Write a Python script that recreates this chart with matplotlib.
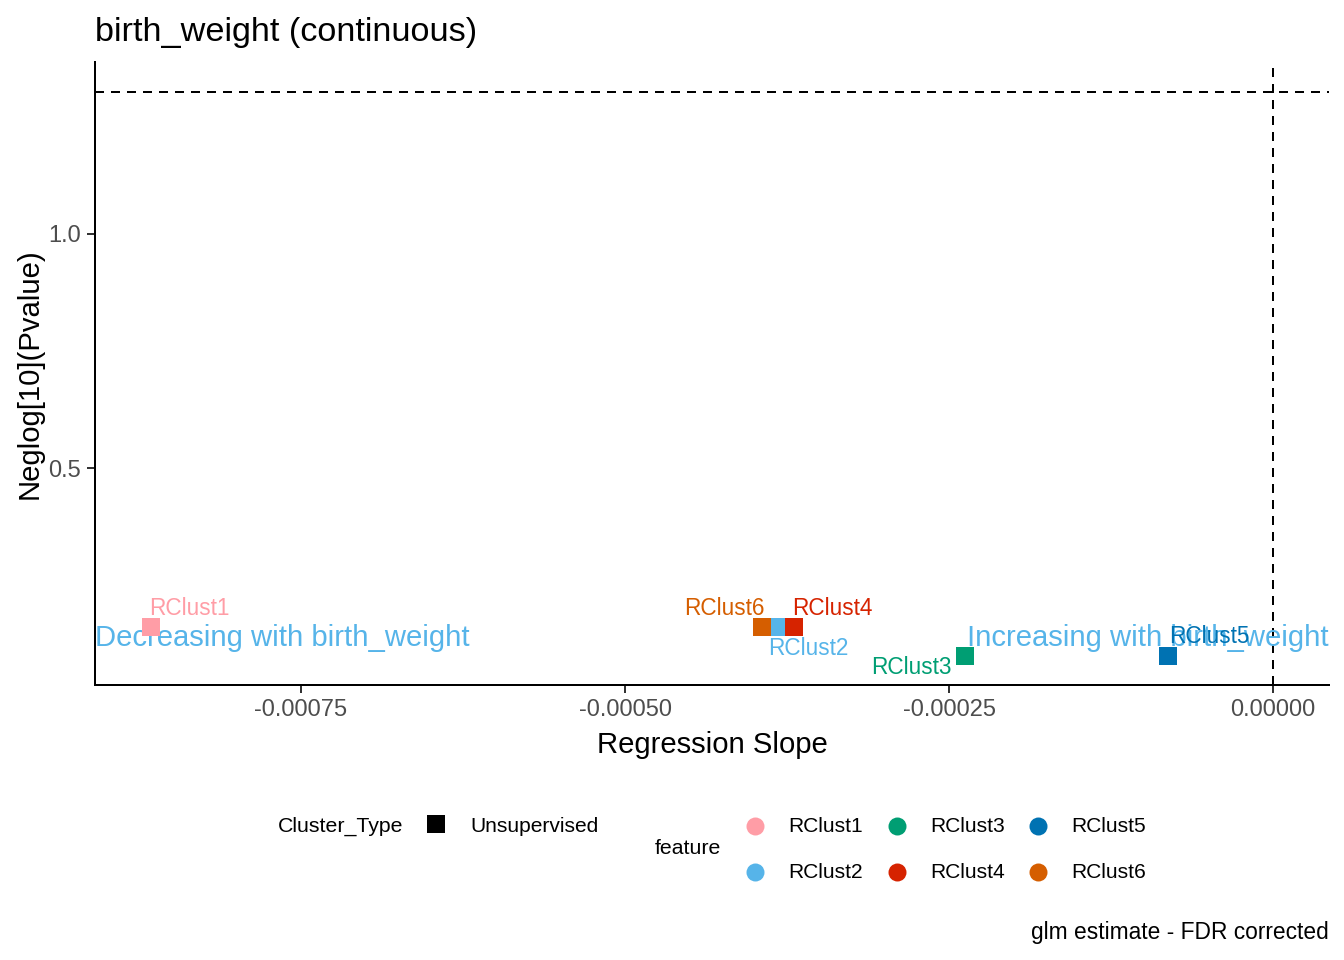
import matplotlib
matplotlib.use("Agg")
import matplotlib.pyplot as plt
from matplotlib.lines import Line2D

plt.rcParams['font.family'] = ['Liberation Sans', 'DejaVu Sans']

features = ["RClust1", "RClust2", "RClust3", "RClust4", "RClust5", "RClust6"]
slopes = [-0.000866, -0.000383, -0.000238, -0.000370, -0.000081, -0.000394]
neglogp = [0.162, 0.162, 0.100, 0.162, 0.100, 0.162]
colors = ["#FF9DA6", "#56B4E9", "#009E73", "#D62300", "#0072B2", "#D55E00"]
label_offsets = {"RClust1": (19.5, 9), "RClust2": (16, -11), "RClust3": (-26.5, -6),
                 "RClust4": (19.5, 9), "RClust5": (20.5, 9.5), "RClust6": (-19, 9)}
sig_threshold = 1.30103
xlim = (-0.000909, 0.0000432)
ylim = (0.038, 1.366)
x_ticks = [-0.00075, -0.00050, -0.00025, 0.0]
x_ticklabels = ["-0.00075", "-0.00050", "-0.00025", "0.00000"]
y_ticks = [0.5, 1.0]
y_ticklabels = ["0.5", "1.0"]
annot_y = 0.138

fig = plt.figure(figsize=(1344/144, 960/144), dpi=144)
ax = fig.add_axes([95/1344, 1-685/960, (1329-95)/1344, (685-62)/960])
ax.set_xlim(*xlim)
ax.set_ylim(*ylim)

ax.axhline(sig_threshold, color='black', ls=(0, (4.5, 3.5)), lw=1.0, zorder=1)
ax.axvline(0, color='black', ls=(0, (4.5, 3.5)), lw=1.0, zorder=1)

for f, x, y, c in zip(features, slopes, neglogp, colors):
    ax.plot([x], [y], marker='s', ms=9, color=c, mec='none', ls='none', zorder=3)

ax.text(xlim[0], annot_y, "Decreasing with birth_weight", color="#56B4E9",
        fontsize=14.6, ha='left', va='center', zorder=2)
ax.text(xlim[1], annot_y, "Increasing with birth_weight", color="#56B4E9",
        fontsize=14.6, ha='right', va='center', zorder=2)

for f, x, y, c in zip(features, slopes, neglogp, colors):
    dx, dy = label_offsets[f]
    ax.annotate(f, (x, y), xytext=(dx, dy), textcoords='offset points',
                ha='center', va='center', color=c, fontsize=11.3, zorder=4)

for s in ['top', 'right']:
    ax.spines[s].set_visible(False)
for s in ['left', 'bottom']:
    ax.spines[s].set_linewidth(1.0)
ax.set_xticks(x_ticks)
ax.set_xticklabels(x_ticklabels)
ax.set_yticks(y_ticks)
ax.set_yticklabels(y_ticklabels)
ax.tick_params(axis='both', colors='#333333', labelsize=11.8, length=4, width=1.0,
               labelcolor='#4D4D4D', pad=3)
ax.set_xlabel("Regression Slope", fontsize=14.6, labelpad=5)
ax.set_ylabel("Neglog[10](Pvalue)", fontsize=14.6, labelpad=2.5)
ax.set_title("birth_weight (continuous)", fontsize=17.1, loc='left', pad=10.5)

# Legend (manual, ggplot-style bottom legend)
W, H = 1344, 960
def fx(px): return px / W
def fy(py): return 1 - py / H

fig.text(fx(278), fy(826), "Cluster_Type", fontsize=10.6, ha='left', va='center')
fig.add_artist(Line2D([fx(436)], [fy(824)], marker='s', ms=9, color='black',
                      mec='none', ls='none', transform=fig.transFigure))
fig.text(fx(470), fy(826), "Unsupervised", fontsize=10.5, ha='left', va='center')

fig.text(fx(655), fy(849), "feature", fontsize=10.6, ha='left', va='center')
key_x = [755, 755, 897, 897, 1038, 1038]
key_y = [826, 872, 826, 872, 826, 872]
for f, c, kx, ky in zip(features, colors, key_x, key_y):
    fig.add_artist(Line2D([fx(kx)], [fy(ky)], marker='o', ms=9, color=c,
                          mec='none', ls='none', transform=fig.transFigure))
    fig.text(fx(kx + 33), fy(ky), f, fontsize=10.5, ha='left', va='center')

fig.text(fx(1329), fy(933), "glm estimate - FDR corrected", fontsize=11.4,
         ha='right', va='center')

fig.savefig("out.png", dpi=144)
